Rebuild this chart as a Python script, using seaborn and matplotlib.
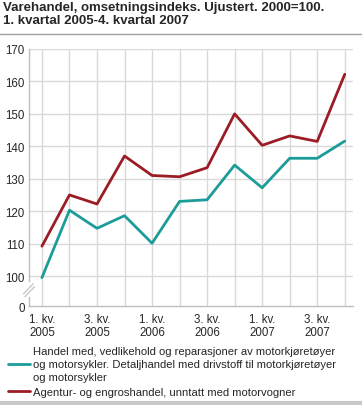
import pandas as pd
import matplotlib
matplotlib.use('Agg')
import matplotlib.pyplot as plt
import seaborn as sns

# kvartaler 2005-2007
kvartal = ['1. kv. 2005', '2. kv. 2005', '3. kv. 2005', '4. kv. 2005',
           '1. kv. 2006', '2. kv. 2006', '3. kv. 2006', '4. kv. 2006',
           '1. kv. 2007', '2. kv. 2007', '3. kv. 2007', '4. kv. 2007']
handel_motor = [99.5, 120.3, 114.7, 118.6, 110.1, 123.0, 123.5, 134.2, 127.2, 136.3, 136.3, 141.6]
agentur_engros = [109.2, 125.0, 122.2, 137.0, 131.0, 130.6, 133.4, 150.0, 140.3, 143.2, 141.5, 162.2]
serie_navn = ['Handel med, vedlikehold og reparasjoner av motorkjøretøyer\n'
              'og motorsykler. Detaljhandel med drivstoff til motorkjøretøyer\n'
              'og motorsykler',
              'Agentur- og engroshandel, unntatt med motorvogner']
tick_tekst = ['1. kv.\n2005', '', '3. kv.\n2005', '', '1. kv.\n2006', '', '3. kv.\n2006', '',
              '1. kv.\n2007', '', '3. kv.\n2007', '']
y_ticks = [100, 110, 120, 130, 140, 150, 160, 170]

farger = ['#1c9c98', '#9b1c25']

sns.set_style('white')
plt.rcParams['font.family'] = ['Liberation Sans', 'DejaVu Sans']

df = pd.DataFrame({
    'pos': list(range(len(kvartal))) * 2,
    'verdi': handel_motor + agentur_engros,
    'serie': [serie_navn[0]] * len(kvartal) + [serie_navn[1]] * len(kvartal),
})

fig = plt.figure(figsize=(3.62, 4.06), dpi=100)
ax = fig.add_axes([29 / 362, 1 - 307 / 406, (353 - 29) / 362, (307 - 50) / 406])

sns.lineplot(data=df, x='pos', y='verdi', hue='serie', palette=farger, linewidth=2,
             ax=ax, legend=False)

# brutt akse: 0 settes 30 px under 100
null_pos = 100 - 30 / 3.243
ax.set_ylim(null_pos, 170)
ax.set_xlim(-0.47, 11.3)
ax.set_yticks([null_pos] + y_ticks)
ax.set_yticklabels(['0'] + [str(v) for v in y_ticks], fontsize=8.3)
ax.set_xticks(range(len(kvartal)))
ax.set_xticklabels(tick_tekst, fontsize=8.3, linespacing=1.1)
ax.tick_params(axis='y', length=0, pad=3)
ax.tick_params(axis='x', length=0, pad=5)
ax.set_xlabel('')
ax.set_ylabel('')

for v in y_ticks:
    ax.axhline(v, color='#d9d9d9', lw=1, zorder=0)
for i in range(len(kvartal)):
    ax.axvline(i, color='#d9d9d9', lw=1, zorder=0)

for s in ['top', 'right']:
    ax.spines[s].set_visible(False)
for s in ['left', 'bottom']:
    ax.spines[s].set_color('#bfbfbf')
    ax.spines[s].set_linewidth(1)

# bruddmarkering
bx = -0.47
ax.plot([bx, bx], [94.0, 97.5], color='white', lw=3, clip_on=False, zorder=5)
ax.plot([bx - 0.2, bx + 0.15], [94.5, 97.6], color='#c8c8c8', lw=1, clip_on=False, zorder=6)
ax.plot([bx - 0.15, bx + 0.2], [93.6, 96.7], color='#c8c8c8', lw=1, clip_on=False, zorder=6)

fig.text(3 / 362, 1 - 2 / 406,
         'Varehandel, omsetningsindeks. Ujustert. 2000=100.\n1. kvartal 2005-4. kvartal 2007',
         fontsize=9.5, fontweight='bold', va='top', ha='left', linespacing=1.15)
fig.add_artist(plt.Line2D([0, 1], [1 - 35 / 406, 1 - 35 / 406], color='#a0a0a0', lw=1))
fig.add_artist(plt.Line2D([0, 1], [1 - 404 / 406, 1 - 404 / 406], color='#c8c8c8', lw=3))

handles = [plt.Line2D([], [], color=c, lw=2) for c in farger]
leg = fig.legend(handles, serie_navn, loc='upper left', bbox_to_anchor=(8 / 362, 1 - 347 / 406),
                 frameon=False, fontsize=8.15, handlelength=1.9, handletextpad=0.3,
                 labelspacing=0.5, borderpad=0, borderaxespad=0)
for t in leg.get_texts():
    t.set_linespacing(1.35)

fig.savefig('out.png', dpi=100)
